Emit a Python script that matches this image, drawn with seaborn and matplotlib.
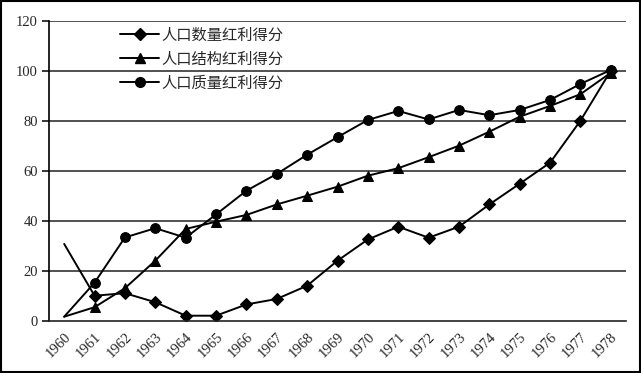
import matplotlib
matplotlib.use("Agg")
import matplotlib.pyplot as plt
import seaborn as sns
import pandas as pd
from matplotlib.lines import Line2D
from matplotlib.patches import Rectangle

years = [str(y) for y in range(1960, 1979)]
quantity = [30.7, 10, 11, 7.4, 2, 2, 6.5, 8.7, 14, 24, 32.5, 37.6, 33.2, 37.6, 46.5, 54.8, 63.2, 80, 100]
structure = [1.6, 5.4, 13, 24, 36.7, 39.6, 42.3, 46.5, 50, 53.6, 58, 61, 65.4, 70, 75.6, 81.6, 85.9, 90.6, 99.2]
quality = [1.6, 15.2, 33.3, 37, 33.2, 42.5, 52, 58.7, 66.4, 73.4, 80.3, 83.9, 80.5, 84.3, 82.2, 84.3, 88.3, 94.7, 100.3]
names = ["人口数量红利得分", "人口结构红利得分", "人口质量红利得分"]
markers = ["D", "^", "o"]
yticks = [0, 20, 40, 60, 80, 100, 120]

sns.set_style("white")
plt.rcParams['font.family'] = ['Liberation Serif', 'Noto Sans CJK SC', 'DejaVu Sans']

fig = plt.figure(figsize=(6.41, 3.73), dpi=100)
ax = fig.add_axes([49/641, 1-320.7/373, (626-49)/641, 300/373])

x = list(range(len(years)))
series = [quantity, structure, quality]
handles = []
for vals, name, mk in zip(series, names, markers):
    df = pd.DataFrame({"x": x, "y": vals})
    ms = 7 if mk != "D" else 6.5
    sns.lineplot(data=df, x="x", y="y", ax=ax, color="black", linewidth=1.4,
                 marker=mk, markersize=ms, markevery=list(range(1, len(vals))),
                 markeredgecolor="black", markerfacecolor="black")
    handles.append(Line2D([], [], color="black", linewidth=1.4, marker=mk, markersize=ms))

ax.set_xlim(-0.5, len(years) - 0.5)
ax.set_ylim(0, 120)
ax.set_yticks(yticks)
ax.set_yticklabels([str(t) for t in yticks], fontsize=10.5)
for t in yticks[1:]:
    ax.axhline(t, color="#222222", linewidth=1.1, zorder=0)

ax.set_xticks(x)
ax.set_xticklabels(years, rotation=45, ha="right", va="top", rotation_mode="anchor", fontsize=10.5)
ax.set_xticks([i - 0.5 for i in range(len(years) + 1)], minor=True)
ax.tick_params(axis="x", which="major", length=0, pad=7)
ax.tick_params(axis="x", which="minor", length=5, width=1.1, color="black", direction="out")
ax.tick_params(axis="y", length=5, width=1.1, color="black", direction="out", left=True, pad=3)
ax.set_xlabel("")
ax.set_ylabel("")
for s in ["top", "right"]:
    ax.spines[s].set_visible(False)
ax.spines["left"].set_color("black")
ax.spines["bottom"].set_color("#222222")
ax.spines["left"].set_linewidth(1.2)
ax.spines["bottom"].set_linewidth(1.2)

leg = ax.legend(handles, names, loc="upper left", bbox_to_anchor=(112/641, 1-19/373),
                bbox_transform=fig.transFigure, frameon=False, handlelength=2.6,
                handletextpad=0.1, labelspacing=0.45, borderpad=0,
                prop={"family": ["Noto Sans CJK SC"], "size": 11})

fig.patches.append(Rectangle((0.002, 0.003), 0.996, 0.994, transform=fig.transFigure,
                             fill=False, edgecolor="black", linewidth=1.5))

fig.savefig("out.png", dpi=100)
